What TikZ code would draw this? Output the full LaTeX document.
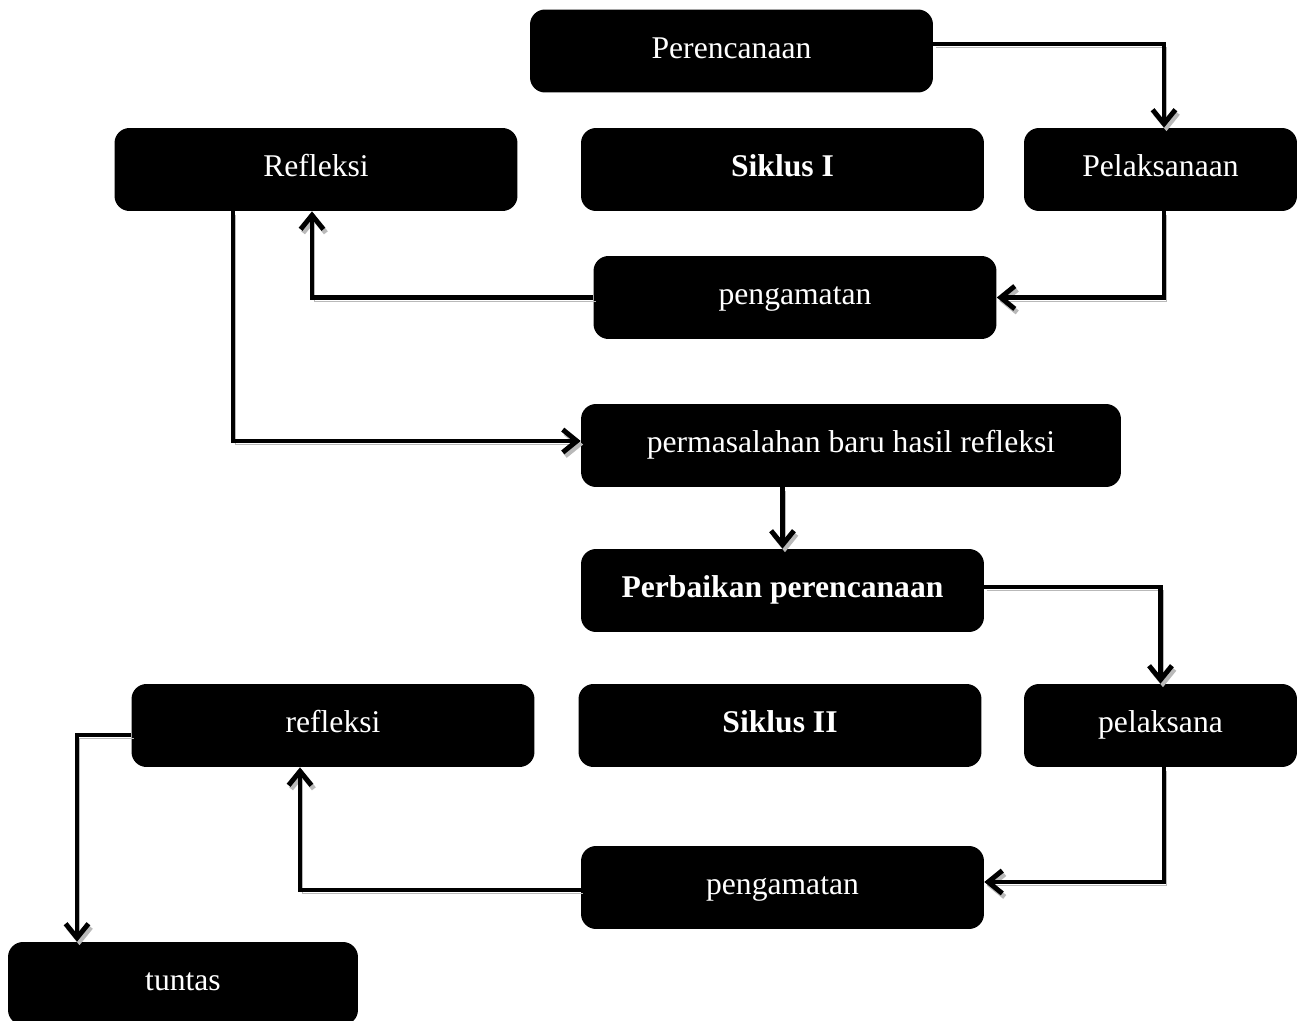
\documentclass[tikz,border=0pt]{standalone}
\usepackage{fontspec}
\setmainfont{Liberation Serif}
\usetikzlibrary{arrows.meta}
\tikzset{>/.tip={Straight Barb[length=8pt,width=13pt,line width=2.8pt]},
  box/.style={fill=black, text=white, rounded corners=0.3cm, minimum height=1.66cm,
    minimum width=8.06cm, inner sep=0pt, text height=12pt, text depth=4pt,
    font=\fontsize{18}{22}\selectfont},
  flow/.style={->, line width=2.5pt,
    preaction={draw=gray!55, transform canvas={xshift=1.4pt,yshift=-2pt}}}}

\begin{document}
\begin{tikzpicture}[x=0.02cm,y=-0.02cm]
\useasboundingbox (0,0) rectangle (1303,1021);
\node[box] (perc) at (731.5,51) {Perencanaan};
\node[box] (refl1) at (316,169.5) {Refleksi};
\node[box] (sik1) at (782.5,169.5) {\textbf{Siklus I}};
\node[box, minimum width=5.46cm] (pel1) at (1160.5,169.5) {Pelaksanaan};
\node[box] (peng1) at (795,297.5) {pengamatan};
\node[box, minimum width=10.8cm] (masalah) at (851,445.5) {permasalahan baru hasil refleksi};
\node[box] (perb) at (782.5,590.5) {\textbf{Perbaikan perencanaan}};
\node[box] (refl2) at (333,725.5) {refleksi};
\node[box] (sik2) at (780,725.5) {\textbf{Siklus II}};
\node[box, minimum width=5.46cm] (pel2) at (1160.5,725.5) {pelaksana};
\node[box] (peng2) at (782.5,887.5) {pengamatan};
\node[box, minimum width=7cm] (tuntas) at (183,983.5) {tuntas};
\draw[flow] ([yshift=0.14cm]perc.east) -| ([xshift=0.07cm]pel1.north);
\draw[flow] ([xshift=0.07cm]pel1.south) |- (peng1.east);
\draw[flow] (peng1.west) -| ([xshift=-0.08cm]refl1.south);
\draw[flow] ([xshift=-1.66cm]refl1.south) |- ([yshift=0.09cm]masalah.west);
\draw[flow] (perb.north |- masalah.south) -- (perb.north);
\draw[flow] ([yshift=0.07cm]perb.east) -| (pel2.north);
\draw[flow] ([xshift=0.07cm]pel2.south) |- ([yshift=0.11cm]peng2.east);
\draw[flow] ([yshift=-0.05cm]peng2.west) -| ([xshift=-0.66cm]refl2.south);
\draw[flow] ([yshift=-0.19cm]refl2.west) -| ([xshift=-2.12cm]tuntas.north);
\end{tikzpicture}
\end{document}
